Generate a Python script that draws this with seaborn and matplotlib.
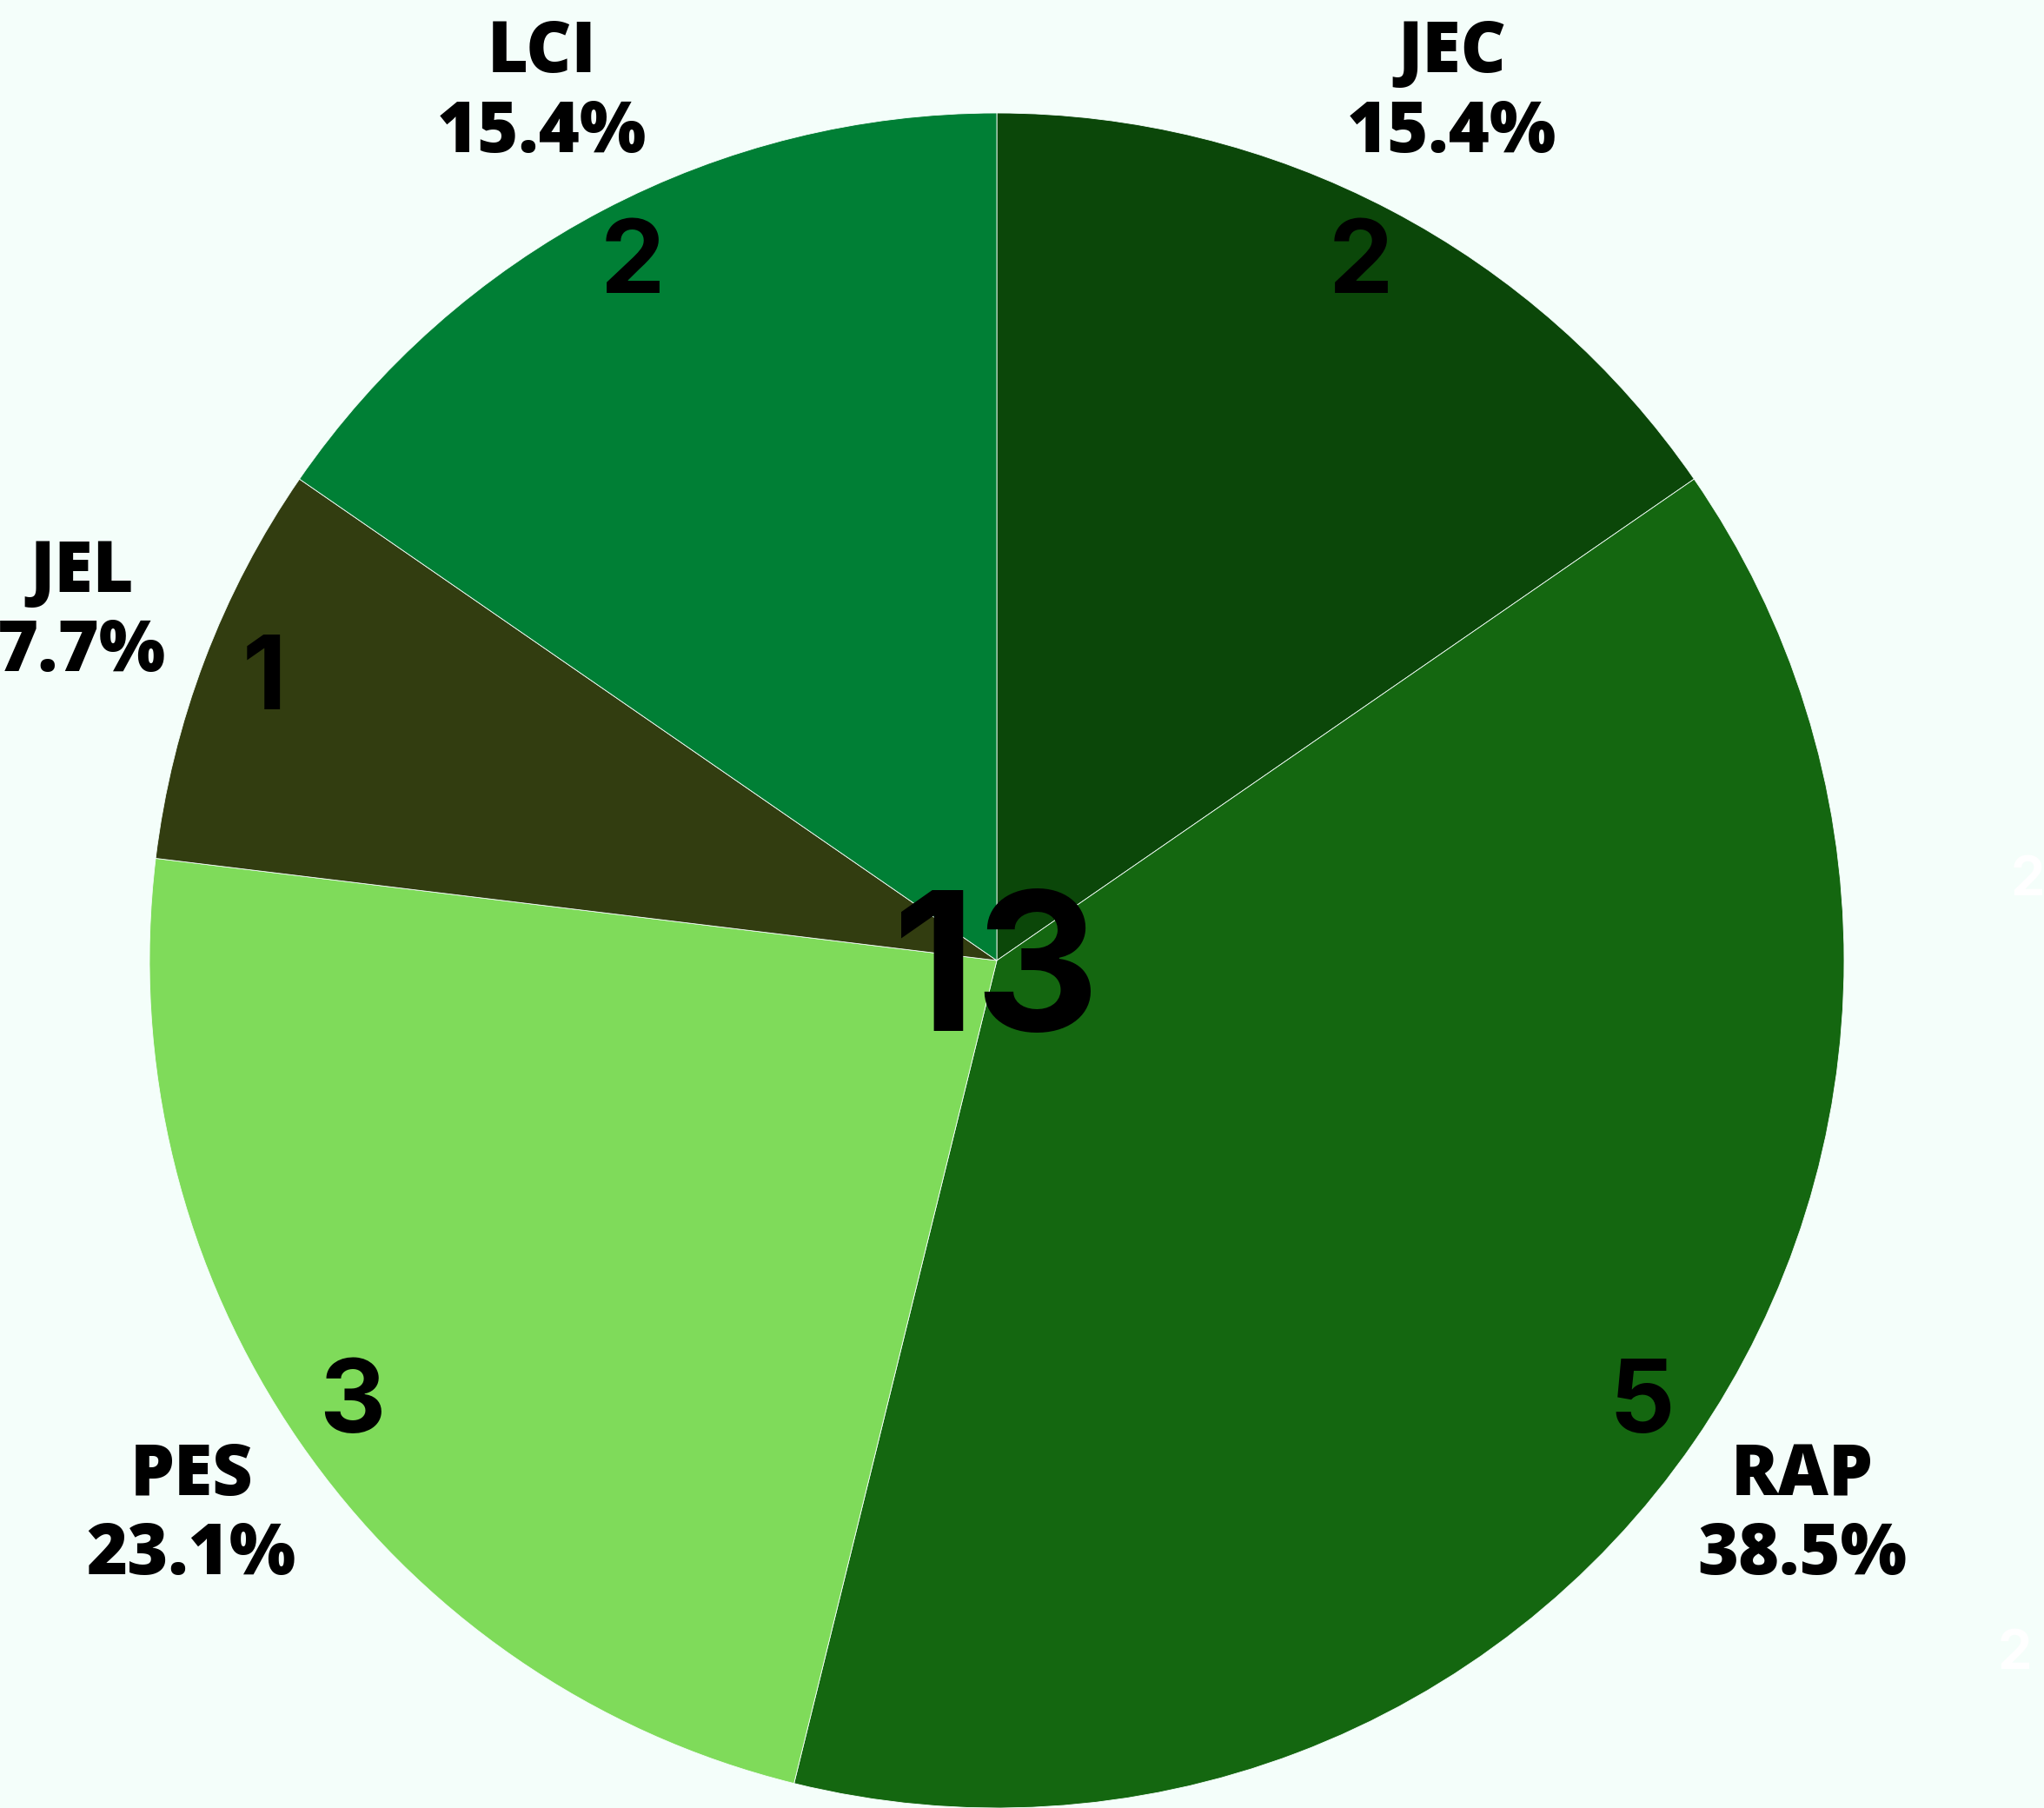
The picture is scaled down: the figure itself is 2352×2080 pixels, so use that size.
import matplotlib
matplotlib.use("Agg")
import matplotlib.pyplot as plt
import seaborn as sns

# slices, clockwise from 12 o'clock
categories = ["JEC", "RAP", "PES", "JEL", "LCI"]
counts = [2, 5, 3, 1, 2]
slice_colors = ["#0b4709", "#146710", "#7fdb5a", "#323d10", "#007f35"]
percent_labels = ["15.4%", "38.5%", "23.1%", "7.7%", "15.4%"]
stray_labels = ["2", "2"]

bg = "#f4fefa"
sns.set_style("white", {"axes.facecolor": bg, "figure.facecolor": bg})

W, H = 2352, 2080
fig = plt.figure(figsize=(W / 100, H / 100), dpi=100)
ax = fig.add_axes([0, 0, 1, 1])

total = sum(counts)
R = 975
center = (1147, H - 1105)

palette = sns.color_palette(slice_colors)
labels = [f"{c}\n{p}" for c, p in zip(categories, percent_labels)]

wedges, texts, autotexts = ax.pie(
    counts, labels=labels, colors=palette, startangle=90, counterclock=False,
    radius=R, center=center, labeldistance=1.155, pctdistance=0.925,
    autopct=lambda p: f"{round(p * total / 100):d}",
    wedgeprops=dict(edgecolor=bg, linewidth=0.6),
    textprops=dict(color="black"),
)

for t in texts:
    t.set_ha("center")
    t.set_va("center")
    t.set_fontsize(58)
    t.set_fontweight(800)
    t.set_linespacing(1.15)
    t.set_family(["Open Sans", "DejaVu Sans"])

for t in autotexts:
    t.set_fontsize(85)
    t.set_family(["Inter", "Liberation Sans"])
    t.set_fontweight("bold")

ax.text(center[0], center[1], str(total), ha="center", va="center_baseline",
        fontsize=160, fontweight="bold", family=["Inter", "Liberation Sans"],
        color="black")

# faint white labels at the right edge
for s, (x, y) in zip(stray_labels, [(2333, H - 1013), (2318, H - 1903)]):
    ax.text(x, y, s, ha="center", va="center", fontsize=45, color="white",
            fontweight="bold", family=["Inter", "Liberation Sans"])

ax.set_xlim(0, W)
ax.set_ylim(0, H)
ax.set_axis_off()

fig.savefig("out.png", dpi=100, facecolor=bg)
